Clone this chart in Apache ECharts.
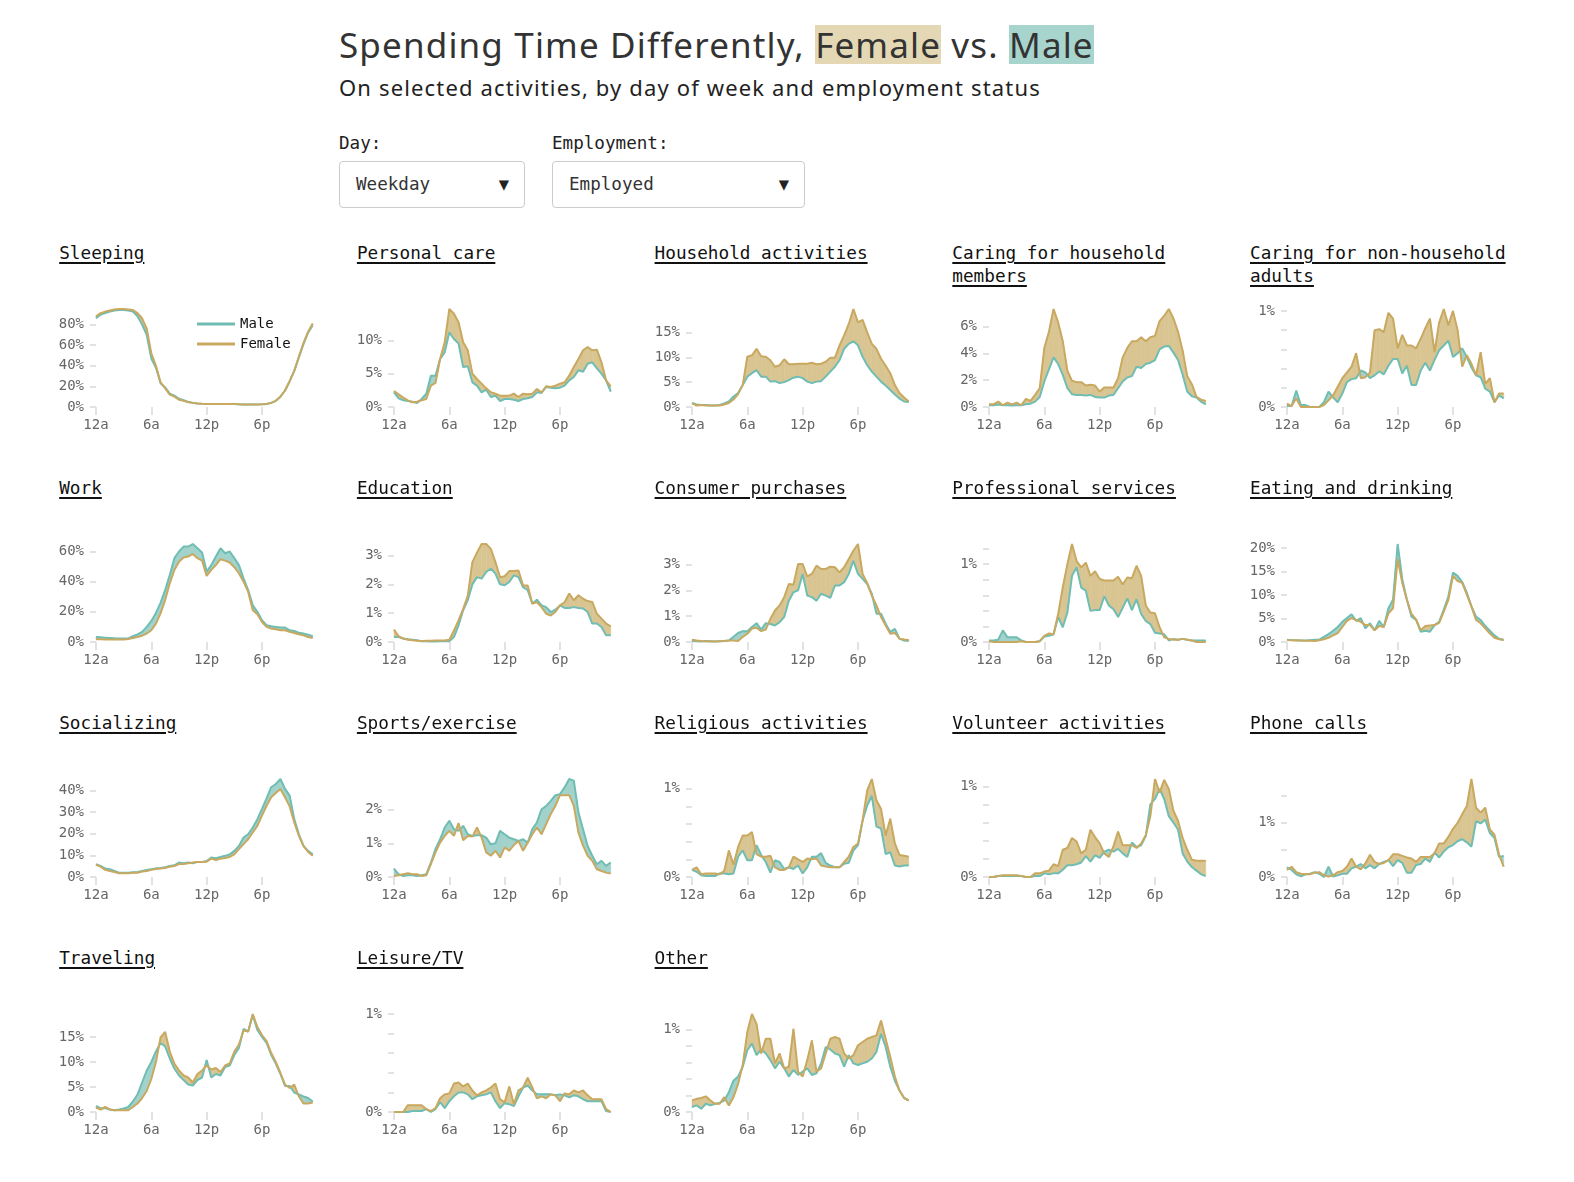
<!DOCTYPE html>
<html lang="en">
<head>
<meta charset="UTF-8" />
<title>Spending Time Differently, Female vs. Male</title>
<script src="https://cdn.jsdelivr.net/npm/echarts@6/dist/echarts.min.js"></script>
<style>
  body { margin: 0; background: #fff; }
  #page { position: relative; width: 1574px; height: 1182px; overflow: hidden; }
  .title {
    position: absolute; left: 339px; top: 21px; margin: 0;
    font-family: "Noto Sans", sans-serif; font-weight: 400; font-size: 35px;
    letter-spacing: 1.15px; line-height: 47px; color: #333; white-space: nowrap;
  }
  .title span { display: inline-block; line-height: 39px; }
  .hl-f { background: #e4d8b4; }
  .hl-m { background: #a7d4cd; }
  .subtitle {
    position: absolute; left: 339px; top: 73px;
    font-family: "Noto Sans", sans-serif; font-size: 22px; letter-spacing: 1.15px;
    line-height: 28px; color: #222; white-space: nowrap;
  }
  .mono { font-family: "DejaVu Sans Mono", "Liberation Mono", monospace; }
  .ctl-label { position: absolute; top: 132px; font-size: 17.6px; line-height: 22px; color: #222; }
  .select {
    position: absolute; top: 161px; height: 47px; box-sizing: border-box;
    border: 1px solid #ccc; border-radius: 4px; padding-left: 16px;
    font-size: 17.6px; line-height: 45px; color: #333;
  }
  .select .arrow { position: absolute; right: 15px; top: 0; font-size: 17px; color: #222; }
  .panel-title {
    position: absolute; width: 285px; font-size: 17.7px; line-height: 23px; color: #111;
    text-decoration: underline; text-decoration-thickness: 2px; text-underline-offset: 3px;
  }
  .chart { position: absolute; width: 310px; height: 160px; }
</style>
</head>
<body>
<div id="page">
  <h1 class="title">Spending Time Differently, <span class="hl-f">Female</span> vs. <span class="hl-m">Male</span></h1>
  <div class="subtitle">On selected activities, by day of week and employment status</div>
  <div class="ctl-label mono" style="left:339px">Day:</div>
  <div class="ctl-label mono" style="left:552px">Employment:</div>
  <div class="select mono" style="left:339px;width:186px">Weekday<span class="arrow">▼</span></div>
  <div class="select mono" style="left:552px;width:253px">Employed<span class="arrow">▼</span></div>
</div>

<script>
  const hourLabels = ["12a", "6a", "12p", "6p"];

  const maleSleeping = [86, 89.5, 91, 92.5, 93.5, 94, 94, 93.5, 92.5, 88, 80, 70, 47, 38, 23, 19, 13, 11, 8, 6.5, 5, 4, 3.5, 3.2, 3, 3, 3, 3, 3, 3, 2.8, 2.6, 2.5, 2.5, 2.5, 2.5, 2.6, 3, 4, 6, 10, 16, 25, 35, 48, 61, 72, 79];
  const femaleSleeping = [88, 91, 92.5, 93.5, 94.5, 95, 95, 94.5, 94, 91, 86, 76, 52, 40, 24, 18, 12, 10, 7, 6, 4.5, 4, 3.5, 3.2, 3, 3, 3, 3, 3, 3, 2.8, 2.6, 2.5, 2.5, 2.5, 2.5, 2.6, 3, 4, 6, 10, 16, 25, 35, 49, 62, 73, 81];

  const malePersonal = [2.2, 1.3, 1.0, 0.9, 0.8, 0.6, 1.2, 2.0, 4.7, 4.7, 7.2, 8.2, 11.2, 10.2, 9.5, 6.0, 6.1, 3.7, 3.2, 2.2, 2.6, 1.5, 1.7, 0.9, 1.2, 1.2, 1.1, 0.9, 1.2, 1.3, 1.5, 2.2, 2.1, 3.0, 2.9, 2.8, 2.9, 3.2, 4.0, 4.5, 5.5, 5.3, 6.5, 6.7, 5.8, 5.0, 4.0, 2.3];
  const femalePersonal = [2.4, 1.9, 1.4, 1.0, 0.7, 0.8, 1.0, 1.2, 3.2, 3.6, 7.2, 9.7, 14.7, 14.0, 12.7, 9.7, 8.5, 5.0, 4.2, 3.5, 2.8, 2.2, 2.0, 1.7, 1.7, 1.7, 2.0, 1.5, 2.0, 1.9, 2.0, 2.7, 2.2, 3.1, 3.0, 3.2, 3.5, 3.7, 4.7, 6.0, 7.2, 8.5, 9.0, 8.5, 8.6, 6.7, 4.0, 3.1];

  const maleHousehold = [0.8, 0.5, 0.4, 0.4, 0.3, 0.3, 0.4, 0.7, 1.1, 2.1, 2.8, 4.4, 6.1, 6.8, 7.4, 6.1, 6.1, 5.1, 5.2, 4.8, 5.0, 5.4, 5.9, 6.1, 5.8, 5.1, 4.8, 5.1, 5.2, 6.1, 7.1, 8.1, 9.4, 11.7, 12.7, 13.2, 12.4, 10.1, 8.4, 7.1, 6.1, 5.1, 4.3, 3.4, 2.5, 1.7, 1.1, 1.0];
  const femaleHousehold = [0.8, 0.3, 0.4, 0.3, 0.3, 0.3, 0.3, 0.5, 0.8, 1.5, 2.6, 4.4, 10.1, 10.4, 11.7, 10.2, 10.1, 9.4, 8.1, 8.4, 9.6, 8.6, 8.6, 8.7, 8.7, 8.7, 8.9, 8.6, 8.7, 9.1, 9.9, 9.9, 12.4, 14.4, 16.7, 19.7, 17.0, 17.5, 15.0, 12.7, 11.7, 9.7, 8.3, 6.8, 4.4, 2.8, 1.9, 1.1];

  const maleCaringHH = [0.13, 0.13, 0.18, 0.13, 0.13, 0.12, 0.13, 0.13, 0.2, 0.25, 0.4, 0.75, 1.9, 2.8, 3.7, 3.2, 2.4, 1.4, 0.95, 0.9, 0.9, 0.85, 0.9, 0.75, 0.7, 0.7, 0.85, 0.9, 1.4, 1.9, 2.2, 2.3, 3.0, 2.9, 3.2, 3.3, 3.5, 4.3, 4.5, 4.55, 4.05, 3.5, 2.4, 1.15, 0.8, 0.7, 0.4, 0.2];
  const femaleCaringHH = [0.2, 0.2, 0.4, 0.13, 0.33, 0.2, 0.33, 0.13, 0.6, 0.45, 0.9, 1.4, 4.4, 5.6, 7.3, 6.3, 4.9, 2.7, 1.95, 1.85, 1.85, 1.6, 1.65, 1.6, 1.15, 1.45, 1.45, 1.45, 2.15, 3.7, 4.4, 4.9, 4.9, 5.2, 4.9, 5.2, 5.3, 6.4, 6.8, 7.3, 6.6, 5.6, 4.2, 2.3, 1.7, 0.75, 0.55, 0.45];

  const maleCaringNonHH = [0.01, 0.01, 0.17, 0.02, 0.02, 0, 0, 0, 0.05, 0.16, 0.1, 0.05, 0.14, 0.26, 0.29, 0.3, 0.38, 0.36, 0.3, 0.33, 0.37, 0.34, 0.43, 0.5, 0.5, 0.35, 0.43, 0.23, 0.23, 0.38, 0.46, 0.38, 0.49, 0.59, 0.64, 0.69, 0.52, 0.56, 0.61, 0.52, 0.41, 0.33, 0.31, 0.19, 0.16, 0.05, 0.12, 0.09];
  const femaleCaringNonHH = [0.035, 0.01, 0.09, 0, 0, 0, 0, 0, 0.02, 0.07, 0.12, 0.21, 0.3, 0.36, 0.42, 0.56, 0.3, 0.31, 0.36, 0.8, 0.81, 0.78, 0.98, 0.92, 0.61, 0.75, 0.64, 0.64, 0.61, 0.71, 0.82, 0.92, 0.57, 0.88, 1.02, 0.85, 1.0, 0.8, 0.42, 0.54, 0.45, 0.33, 0.57, 0.24, 0.3, 0.05, 0.14, 0.14];

  const maleWork = [3.3, 3.1, 2.9, 2.7, 2.5, 2.4, 2.3, 2.4, 3.8, 5.1, 6.7, 10, 14, 19.3, 26, 34.4, 44.4, 55.6, 60, 63.3, 63.3, 65, 62.2, 59.3, 46.7, 51, 56.7, 62.2, 58.9, 60, 55.6, 51, 42.2, 34.4, 24.4, 20, 14.4, 11.1, 10.4, 10, 9.6, 9.6, 7.8, 7.3, 6.2, 5.6, 4.9, 3.8];
  const femaleWork = [1.8, 1.8, 1.7, 1.6, 1.6, 1.6, 1.6, 2.0, 2.7, 3.3, 4.2, 5.6, 7.8, 12.2, 19, 27.8, 38.9, 47.8, 53.3, 56, 56.7, 58.4, 55.6, 54, 43.8, 47.8, 51, 54.9, 54, 52.7, 49.6, 45.6, 40, 33.3, 21.1, 18.4, 13.3, 10, 8.9, 8.4, 7.8, 7.8, 6.7, 6, 5.1, 4.4, 3.3, 2.7];

  const maleEducation = [0.17, 0.17, 0.12, 0.1, 0.08, 0.06, 0.03, 0.03, 0.02, 0.02, 0.03, 0.03, 0.03, 0.17, 0.58, 1.1, 1.45, 2.0, 2.25, 2.2, 2.43, 2.54, 2.37, 2.0, 1.97, 2.08, 2.31, 2.25, 1.9, 1.8, 1.33, 1.47, 1.27, 1.21, 1.04, 1.12, 1.27, 1.18, 1.18, 1.21, 1.18, 1.16, 1.04, 0.64, 0.64, 0.52, 0.23, 0.23];
  const femaleEducation = [0.43, 0.2, 0.12, 0.08, 0.06, 0.04, 0.03, 0.04, 0.04, 0.05, 0.05, 0.05, 0.08, 0.4, 0.75, 1.15, 1.6, 2.77, 3.1, 3.4, 3.4, 3.23, 2.77, 2.25, 2.28, 2.46, 2.46, 2.48, 1.96, 1.96, 1.33, 1.38, 1.21, 0.98, 0.92, 1.04, 1.27, 1.38, 1.68, 1.45, 1.62, 1.5, 1.42, 1.39, 0.98, 0.81, 0.64, 0.54];

  const maleConsumer = [0.04, 0.03, 0.02, 0.04, 0.03, 0.02, 0.03, 0.04, 0.06, 0.2, 0.35, 0.42, 0.42, 0.58, 0.73, 0.48, 0.73, 0.7, 0.64, 0.77, 0.97, 1.6, 1.93, 2.0, 2.64, 1.8, 1.74, 1.6, 1.87, 1.8, 1.71, 2.19, 2.19, 2.32, 2.64, 3.15, 2.64, 2.45, 2.25, 1.87, 1.1, 1.1, 0.71, 0.39, 0.51, 0.13, 0.06, 0.04];
  const femaleConsumer = [0.09, 0.06, 0.04, 0.03, 0.02, 0.02, 0.03, 0.04, 0.06, 0.06, 0.04, 0.2, 0.32, 0.52, 0.55, 0.42, 0.48, 0.9, 1.22, 1.42, 1.74, 2.25, 2.22, 3.02, 3.02, 2.54, 2.64, 2.96, 2.83, 2.83, 2.92, 2.9, 2.7, 2.9, 3.22, 3.54, 3.8, 2.64, 2.28, 1.8, 1.42, 0.97, 0.64, 0.32, 0.35, 0.13, 0.1, 0.08];

  const maleProfessional = [0.02, 0.02, 0.03, 0.15, 0.06, 0.06, 0.06, 0.02, 0, 0, 0, 0.01, 0.07, 0.08, 0.1, 0.32, 0.19, 0.38, 0.85, 0.96, 0.7, 0.66, 0.4, 0.41, 0.41, 0.59, 0.47, 0.42, 0.32, 0.44, 0.56, 0.41, 0.55, 0.36, 0.27, 0.23, 0.12, 0.11, 0.1, 0.02, 0.04, 0.03, 0.04, 0.03, 0.02, 0.02, 0.02, 0.02];
  const femaleProfessional = [0.01, 0, 0, 0, 0, 0, 0, 0.01, 0, 0, 0, 0.01, 0.08, 0.11, 0.1, 0.36, 0.7, 1.0, 1.26, 1.04, 0.96, 1.02, 0.85, 0.91, 0.81, 0.79, 0.79, 0.79, 0.84, 0.74, 0.83, 0.82, 0.98, 0.85, 0.47, 0.38, 0.37, 0.19, 0.06, 0.04, 0.03, 0.03, 0.04, 0.03, 0.02, 0, 0, 0];

  const maleEating = [0.5, 0.4, 0.35, 0.3, 0.3, 0.4, 0.5, 0.5, 1.1, 1.7, 2.4, 3.2, 4.3, 5.1, 5.9, 4.5, 5.1, 2.9, 4.0, 2.5, 4.5, 3.2, 7.2, 9.0, 20.9, 13.4, 9.0, 5.4, 4.7, 2.2, 2.4, 2.2, 3.6, 4.3, 6.9, 9.7, 14.8, 14.1, 12.8, 10.5, 7.6, 5.4, 4.7, 3.4, 2.4, 1.4, 0.7, 0.5];
  const femaleEating = [0.4, 0.35, 0.3, 0.3, 0.25, 0.25, 0.2, 0.35, 0.6, 0.9, 1.4, 1.9, 3.2, 4.5, 5.1, 4.7, 4.3, 3.6, 3.6, 2.5, 3.4, 3.2, 6.1, 7.2, 17.7, 12.6, 9.0, 6.0, 4.8, 2.5, 3.4, 3.5, 3.6, 4.1, 6.5, 9.0, 14.1, 13.0, 12.6, 10.1, 7.6, 4.7, 4.0, 2.9, 1.8, 0.9, 0.6, 0.4];

  const maleSocializing = [5.9, 5.1, 3.9, 3.6, 2.8, 2.0, 2.0, 2.0, 2.2, 2.3, 2.8, 3.3, 3.6, 4.0, 4.2, 4.5, 5.1, 5.4, 6.7, 6.4, 6.7, 6.4, 7.0, 7.0, 7.4, 9.0, 8.7, 9.3, 9.8, 10.5, 12.1, 14.4, 18.3, 19.8, 22.9, 26.8, 31.5, 36.4, 41.6, 43.1, 45.4, 40.8, 37.7, 26.8, 19.8, 14.4, 12.1, 10.5];
  const femaleSocializing = [5.6, 4.8, 3.3, 2.8, 2.3, 1.7, 1.7, 1.7, 2.0, 2.0, 2.5, 2.8, 3.3, 3.7, 3.9, 4.2, 4.8, 5.1, 6.0, 6.0, 6.4, 6.7, 7.0, 7.0, 7.1, 8.5, 7.9, 8.5, 8.8, 9.3, 10.5, 12.9, 15.2, 17.5, 20.6, 23.7, 28.4, 33.0, 36.9, 38.9, 40.8, 36.9, 32.7, 25.3, 19.1, 14.4, 11.6, 9.8];

  const maleSports = [0.25, 0.08, 0.03, 0.05, 0.05, 0.03, 0.05, 0.08, 0.43, 0.83, 1.12, 1.47, 1.67, 1.42, 1.37, 1.52, 1.27, 1.22, 1.24, 1.24, 1.17, 0.97, 1.0, 1.37, 1.27, 1.17, 1.12, 1.07, 1.12, 1.02, 1.42, 1.62, 2.01, 2.11, 2.26, 2.43, 2.46, 2.66, 2.91, 2.86, 1.92, 1.42, 0.92, 0.63, 0.38, 0.48, 0.33, 0.43];
  const femaleSports = [0.03, 0.05, 0.08, 0.11, 0.08, 0.08, 0.03, 0.05, 0.38, 0.73, 1.02, 1.22, 1.37, 1.22, 1.6, 1.09, 1.22, 1.2, 1.47, 1.17, 0.73, 0.63, 0.78, 0.58, 0.88, 0.78, 0.95, 1.07, 0.78, 1.02, 1.27, 1.47, 1.27, 1.57, 1.87, 2.11, 2.43, 2.43, 2.43, 2.11, 1.32, 0.93, 0.63, 0.48, 0.23, 0.18, 0.13, 0.1];

  const maleReligious = [0.08, 0.06, 0.02, 0.01, 0.01, 0.01, 0.04, 0.04, 0.03, 0.04, 0.23, 0.3, 0.19, 0.19, 0.36, 0.25, 0.17, 0.05, 0.19, 0.17, 0.09, 0.11, 0.09, 0.13, 0.04, 0.11, 0.23, 0.23, 0.27, 0.16, 0.13, 0.11, 0.11, 0.15, 0.16, 0.3, 0.36, 0.64, 0.81, 0.92, 0.57, 0.55, 0.26, 0.28, 0.13, 0.12, 0.13, 0.13];
  const femaleReligious = [0.08, 0.11, 0.03, 0.04, 0.04, 0.04, 0.03, 0.07, 0.3, 0.14, 0.34, 0.47, 0.47, 0.51, 0.26, 0.23, 0.23, 0.24, 0.11, 0.08, 0.08, 0.11, 0.23, 0.2, 0.17, 0.21, 0.2, 0.21, 0.13, 0.12, 0.11, 0.11, 0.11, 0.17, 0.23, 0.34, 0.38, 0.64, 0.98, 1.11, 0.87, 0.77, 0.47, 0.66, 0.38, 0.25, 0.24, 0.23];

  const maleVolunteer = [0, 0, 0.01, 0.01, 0.01, 0.01, 0.01, 0.01, 0, 0, 0.01, 0.01, 0.04, 0.03, 0.04, 0.04, 0.08, 0.13, 0.13, 0.14, 0.16, 0.23, 0.17, 0.24, 0.21, 0.28, 0.3, 0.28, 0.31, 0.26, 0.22, 0.38, 0.33, 0.35, 0.45, 0.8, 0.86, 0.97, 0.86, 0.67, 0.6, 0.52, 0.26, 0.17, 0.11, 0.07, 0.03, 0.01];
  const femaleVolunteer = [0, 0, 0.01, 0.02, 0.02, 0.02, 0.02, 0.01, 0, 0, 0.04, 0.04, 0.06, 0.07, 0.14, 0.12, 0.3, 0.32, 0.43, 0.39, 0.26, 0.3, 0.52, 0.44, 0.37, 0.26, 0.22, 0.34, 0.5, 0.35, 0.35, 0.35, 0.32, 0.37, 0.46, 0.67, 1.08, 0.93, 1.07, 0.97, 0.73, 0.62, 0.43, 0.3, 0.19, 0.18, 0.18, 0.18];

  const malePhone = [0.18, 0.13, 0.05, 0.01, 0.05, 0.06, 0.09, 0.06, 0, 0.19, 0.01, 0.03, 0.06, 0.06, 0.16, 0.19, 0.24, 0.16, 0.22, 0.16, 0.24, 0.28, 0.31, 0.2, 0.31, 0.26, 0.08, 0.08, 0.22, 0.24, 0.34, 0.28, 0.45, 0.36, 0.47, 0.55, 0.59, 0.66, 0.7, 0.64, 0.56, 1.03, 0.99, 1.06, 0.81, 0.72, 0.37, 0.39];
  const femalePhone = [0.13, 0.19, 0.09, 0.06, 0.05, 0.05, 0.08, 0.09, 0.03, 0.01, 0.03, 0.09, 0.11, 0.19, 0.34, 0.19, 0.14, 0.25, 0.41, 0.28, 0.24, 0.26, 0.31, 0.42, 0.42, 0.39, 0.36, 0.34, 0.28, 0.37, 0.37, 0.37, 0.44, 0.62, 0.62, 0.74, 0.89, 1.0, 1.16, 1.31, 1.81, 1.28, 1.19, 1.28, 0.88, 0.78, 0.41, 0.19];

  const maleTraveling = [1.2, 0.7, 0.8, 0.5, 0.35, 0.5, 0.7, 1.0, 2.1, 3.5, 5.9, 8.3, 10.0, 12.1, 13.8, 13.1, 10.7, 8.7, 7.3, 6.4, 5.5, 5.3, 6.4, 6.9, 10.4, 6.9, 7.6, 7.3, 9.0, 9.3, 11.4, 12.8, 16.6, 16.1, 19.4, 16.4, 15.0, 13.8, 11.4, 9.7, 7.6, 5.2, 5.2, 3.9, 3.5, 3.1, 2.8, 2.1];
  const femaleTraveling = [0.9, 0.5, 1.0, 0.5, 0.35, 0.35, 0.35, 0.35, 1.0, 1.7, 2.8, 4.2, 6.6, 10.0, 14.9, 16.0, 12.1, 9.7, 8.3, 7.3, 6.9, 5.9, 7.6, 8.3, 9.3, 8.5, 8.8, 8.0, 9.3, 9.7, 12.1, 13.5, 16.3, 16.1, 19.6, 17.0, 15.4, 14.2, 11.8, 10.0, 7.8, 5.5, 4.8, 5.5, 3.1, 1.7, 1.7, 1.9];

  const maleLeisure = [0, 0, 0, 0, 0.01, 0.01, 0.01, 0.03, 0, 0.03, 0.1, 0.04, 0.11, 0.16, 0.2, 0.2, 0.18, 0.13, 0.16, 0.17, 0.18, 0.2, 0.11, 0.04, 0.09, 0.08, 0.06, 0.16, 0.25, 0.27, 0.22, 0.18, 0.18, 0.18, 0.18, 0.17, 0.18, 0.17, 0.15, 0.17, 0.16, 0.13, 0.11, 0.11, 0.11, 0.11, 0.01, 0];
  const femaleLeisure = [0, 0, 0, 0.07, 0.07, 0.07, 0.07, 0.03, 0.01, 0.04, 0.14, 0.18, 0.19, 0.29, 0.3, 0.26, 0.29, 0.22, 0.17, 0.2, 0.22, 0.25, 0.29, 0.13, 0.1, 0.26, 0.08, 0.22, 0.25, 0.35, 0.25, 0.14, 0.16, 0.14, 0.18, 0.17, 0.11, 0.19, 0.18, 0.22, 0.2, 0.22, 0.17, 0.13, 0.13, 0.13, 0.03, 0];

  const maleOther = [0.06, 0.08, 0.04, 0.1, 0.08, 0.1, 0.11, 0.14, 0.24, 0.38, 0.43, 0.55, 0.75, 0.83, 0.69, 0.76, 0.71, 0.63, 0.53, 0.61, 0.53, 0.43, 0.51, 0.45, 0.49, 0.53, 0.45, 0.47, 0.59, 0.79, 0.76, 0.71, 0.69, 0.55, 0.69, 0.59, 0.57, 0.59, 0.61, 0.65, 0.73, 0.95, 0.79, 0.55, 0.38, 0.26, 0.17, 0.14];
  const femaleOther = [0.14, 0.16, 0.17, 0.19, 0.14, 0.1, 0.1, 0.18, 0.08, 0.18, 0.34, 0.57, 0.97, 1.19, 1.07, 0.71, 0.89, 0.89, 0.59, 0.71, 0.53, 0.55, 1.01, 0.49, 0.43, 0.63, 0.87, 0.49, 0.53, 0.71, 0.89, 0.91, 0.89, 0.71, 0.65, 0.69, 0.81, 0.85, 0.89, 0.91, 0.93, 1.11, 0.89, 0.67, 0.43, 0.26, 0.17, 0.14];

  // activity name, male, female, y tick step (in %)
  const activities = [
    ["Sleeping", maleSleeping, femaleSleeping, 20],
    ["Personal care", malePersonal, femalePersonal, 5],
    ["Household activities", maleHousehold, femaleHousehold, 5],
    ["Caring for household members", maleCaringHH, femaleCaringHH, 2],
    ["Caring for non-household adults", maleCaringNonHH, femaleCaringNonHH, 0.2],
    ["Work", maleWork, femaleWork, 20],
    ["Education", maleEducation, femaleEducation, 1],
    ["Consumer purchases", maleConsumer, femaleConsumer, 1],
    ["Professional services", maleProfessional, femaleProfessional, 0.2],
    ["Eating and drinking", maleEating, femaleEating, 5],
    ["Socializing", maleSocializing, femaleSocializing, 10],
    ["Sports/exercise", maleSports, femaleSports, 1],
    ["Religious activities", maleReligious, femaleReligious, 0.2],
    ["Volunteer activities", maleVolunteer, femaleVolunteer, 0.2],
    ["Phone calls", malePhone, femalePhone, 0.5],
    ["Traveling", maleTraveling, femaleTraveling, 5],
    ["Leisure/TV", maleLeisure, femaleLeisure, 0.2],
    ["Other", maleOther, femaleOther, 0.2],
  ];

  const MALE_LINE = "#6fbdb3";
  const FEMALE_LINE = "#c9a860";
  const MALE_FILL = "#a1d2cb";
  const FEMALE_FILL = "#d9c592";
  const MONO = '"DejaVu Sans Mono", "Liberation Mono", monospace';

  // half-hour slots, 12:00a .. 11:30p
  const slots = [];
  for (let i = 0; i < 48; i++) slots.push(String(i));

  // fill between the two lines, coloured by whichever is higher
  function renderBand(params, api) {
    const i = api.value(0);
    const m0 = api.value(1), f0 = api.value(2);
    const m1 = api.value(3), f1 = api.value(4);
    const pm0 = api.coord([i, m0]), pf0 = api.coord([i, f0]);
    const pm1 = api.coord([i + 1, m1]), pf1 = api.coord([i + 1, f1]);
    const d0 = f0 - m0, d1 = f1 - m1;
    const poly = (pts, femaleUp) => ({
      type: "polygon",
      shape: { points: pts },
      style: {
        fill: femaleUp ? FEMALE_FILL : MALE_FILL,
        stroke: femaleUp ? FEMALE_FILL : MALE_FILL,
        lineWidth: 0.6,
      },
    });
    const children = [];
    if (d0 * d1 < 0) {
      const t = d0 / (d0 - d1);
      const cx = pm0[0] + t * (pm1[0] - pm0[0]);
      const cy = pm0[1] + t * (pm1[1] - pm0[1]);
      children.push(poly([pm0, [cx, cy], pf0], d0 > 0));
      children.push(poly([[cx, cy], pm1, pf1], d1 > 0));
    } else {
      children.push(poly([pm0, pm1, pf1, pf0], d0 + d1 > 0));
    }
    return { type: "group", children: children };
  }

  const page = document.getElementById("page");

  activities.forEach(([name, male, female, step], k) => {
    const col = k % 5;
    const row = Math.floor(k / 5);
    const left = 59.2 + col * 297.7;
    const top = 242 + row * 234.9;

    const title = document.createElement("div");
    title.className = "panel-title mono";
    title.style.left = left + "px";
    title.style.top = top + "px";
    title.textContent = name;
    page.appendChild(title);

    // chart box starts 20px left of the title so the y labels have room
    const box = document.createElement("div");
    box.className = "chart";
    box.style.left = left - 20 + "px";
    box.style.top = top + 51 + "px";
    page.appendChild(box);

    const yMax = Math.max(1, ...male, ...female);
    const ticks = [];
    for (let n = 0; n * step <= yMax + 1e-9; n++) ticks.push(+(n * step).toFixed(4));
    const labels = ticks.filter((v) => Math.abs(v - Math.round(v)) < 1e-6);

    const band = [];
    for (let i = 0; i < male.length - 1; i++) {
      band.push([i, male[i], female[i], male[i + 1], female[i + 1]]);
    }

    const chart = echarts.init(box);
    const option = {
      animation: false,
      grid: { left: 57, top: 16, width: 216.7, height: 98 },
      xAxis: {
        type: "category",
        boundaryGap: false,
        data: slots,
        axisLine: { show: false },
        axisTick: {
          show: true,
          interval: (idx) => idx % 12 === 0,
          length: 8,
          lineStyle: { color: "#e2e2e2", width: 2 },
        },
        axisLabel: {
          interval: (idx) => idx % 12 === 0,
          formatter: (v, idx) => hourLabels[idx / 12],
          color: "#666",
          fontFamily: MONO,
          fontSize: 14,
          margin: 11,
        },
        splitLine: { show: false },
      },
      yAxis: {
        type: "value",
        min: 0,
        max: yMax,
        axisLine: { show: false },
        splitLine: { show: false },
        axisTick: {
          show: true,
          customValues: ticks,
          length: 6,
          lineStyle: { color: "#e2e2e2", width: 2 },
        },
        axisLabel: {
          customValues: labels,
          formatter: (v) => Math.round(v) + "%",
          color: "#666",
          fontFamily: MONO,
          fontSize: 14,
          margin: 12,
        },
      },
      series: [
        {
          type: "custom",
          renderItem: renderBand,
          data: band,
          encode: { x: 0, y: [1, 2] },
          silent: true,
          z: 1,
        },
        {
          name: "Male",
          type: "line",
          data: male,
          showSymbol: false,
          symbol: "none",
          clip: false,
          color: MALE_LINE,
          lineStyle: { color: MALE_LINE, width: 2 },
          z: 2,
        },
        {
          name: "Female",
          type: "line",
          data: female,
          showSymbol: false,
          symbol: "none",
          clip: false,
          color: FEMALE_LINE,
          lineStyle: { color: FEMALE_LINE, width: 2 },
          z: 3,
        },
      ],
    };
    if (k === 0) {
      option.legend = {
        data: ["Male", "Female"],
        orient: "vertical",
        left: 153,
        top: 19,
        icon: "rect",
        itemWidth: 38,
        itemHeight: 3,
        itemGap: 6,
        textStyle: { fontFamily: MONO, fontSize: 14, color: "#111" },
      };
    }
    chart.setOption(option);
  });
</script>
</body>
</html>
